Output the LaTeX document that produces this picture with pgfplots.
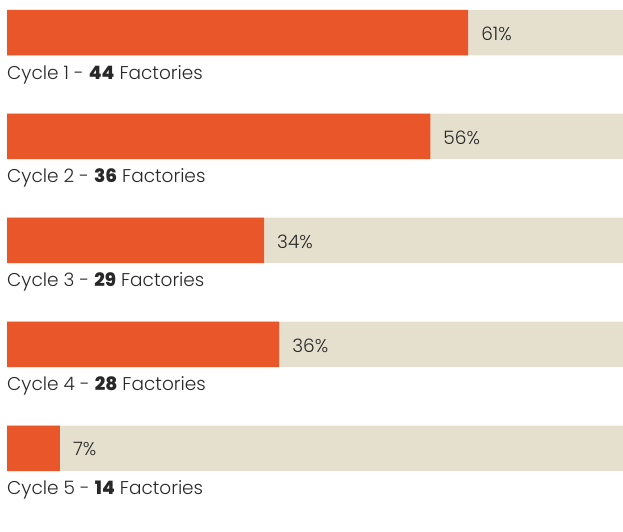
\documentclass[border=0pt]{standalone}
\usepackage{fontspec}
\setmainfont{Poppins}[UprightFont=* Light, BoldFont=* ExtraBold]
\usepackage{pgfplots}
\pgfplotsset{compat=1.18}
\definecolor{barorange}{RGB}{232,86,41}
\definecolor{barbeige}{RGB}{229,224,206}
\definecolor{txt}{RGB}{40,40,40}

\begin{document}
\begin{tikzpicture}[
  lbl/.style={anchor=base west, inner sep=0pt, text=txt,
    font=\fontsize{18.5}{22}\selectfont, yshift=-46.5pt},
]
\begin{axis}[
  scale only axis,
  width=623pt, height=491pt,
  xmin=-0.93, xmax=81.5,
  ymin=-0.3125, ymax=4.409,
  y dir=reverse,
  hide axis,
  clip=false,
  xbar, bar width=45.5pt,
  /pgf/number format/assume math mode=true,
]
% full-length background bars
\addplot[draw=none, fill=barbeige, bar shift=0pt]
  coordinates {(81.5,0) (81.5,1) (81.5,2) (81.5,3) (81.5,4)};
% share
\addplot[draw=none, fill=barorange, bar shift=0pt,
  point meta=x,
  nodes near coords={\pgfmathprintnumber{\pgfplotspointmeta}\%},
  nodes near coords style={anchor=west, xshift=13pt, yshift=-1pt, inner sep=0pt,
    text=txt, font=\fontsize{18.5}{22}\selectfont},
]
  coordinates {(61,0) (56,1) (34,2) (36,3) (7,4)};

\node[lbl] at (axis cs:0,0) {Cycle 1 - \textbf{44} Factories};
\node[lbl] at (axis cs:0,1) {Cycle 2 - \textbf{36} Factories};
\node[lbl] at (axis cs:0,2) {Cycle 3 - \textbf{29} Factories};
\node[lbl] at (axis cs:0,3) {Cycle 4 - \textbf{28} Factories};
\node[lbl] at (axis cs:0,4) {Cycle 5 - \textbf{14} Factories};
\path (rel axis cs:0,0) ++(0,-8pt) (rel axis cs:1,1);
\end{axis}
\end{tikzpicture}
\end{document}
